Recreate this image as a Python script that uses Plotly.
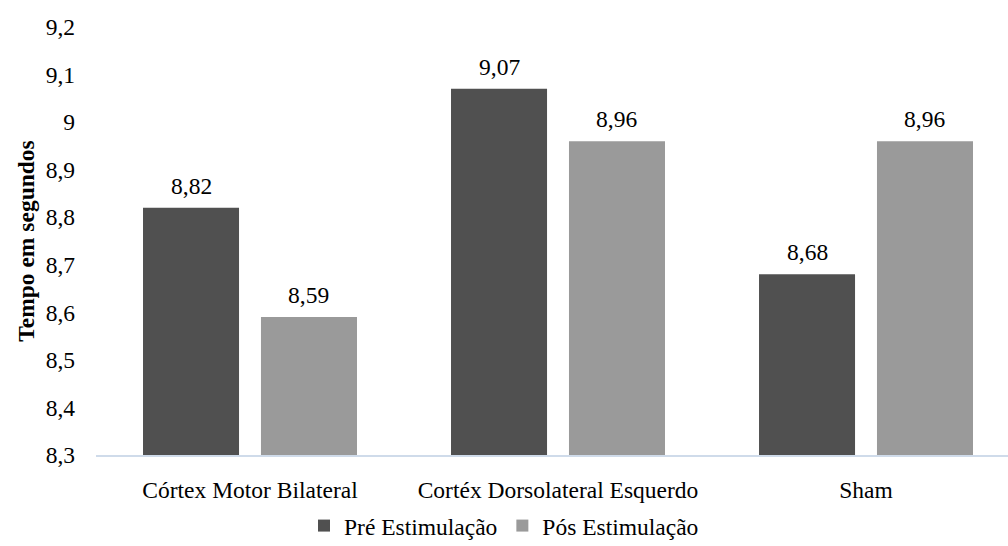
import plotly.graph_objects as go

# Categories and mean times (seconds)
categories = ["Córtex Motor Bilateral", "Cortéx Dorsolateral Esquerdo", "Sham"]
pre_values = [8.82, 9.07, 8.68]
post_values = [8.59, 8.96, 8.96]
series_names = ["Pré Estimulação", "Pós Estimulação"]

y_ticks = [8.3, 8.4, 8.5, 8.6, 8.7, 8.8, 8.9, 9.0, 9.1, 9.2]

FONT = "Liberation Serif"
SIZE = 23.5
BARGAP = 0.234
AXIS_MIN = 8.3
x_pos = list(range(len(categories)))

fig = go.Figure()
fig.add_trace(go.Bar(
    x=x_pos, y=[v - AXIS_MIN for v in pre_values], base=AXIS_MIN, name=series_names[0],
    marker=dict(color="#505050", line=dict(width=0)),
    hoverinfo="skip",
))
fig.add_trace(go.Bar(
    x=x_pos, y=[v - AXIS_MIN for v in post_values], base=AXIS_MIN, name=series_names[1],
    marker=dict(color="#9a9a9a", line=dict(width=0)),
    hoverinfo="skip",
))

# value labels above each bar
slot = (1 - BARGAP) / 2
annotations = []
for vals, off in ((pre_values, -slot / 2), (post_values, slot / 2)):
    for i, v in enumerate(vals):
        annotations.append(dict(
            x=i + off, y=v, xref="x", yref="y",
            text=f"{v:.2f}".replace(".", ","),
            showarrow=False, yanchor="bottom", yshift=7,
            font=dict(family=FONT, size=SIZE, color="#000000"),
        ))

annotations.append(dict(
    x=-0.077, y=0.5, xref="paper", yref="paper",
    text="<b>Tempo em segundos</b>", textangle=-90, showarrow=False,
    xanchor="center", yanchor="middle",
    font=dict(family=FONT, size=SIZE, color="#000000"),
))

fig.update_layout(
    width=1008, height=546,
    margin=dict(l=96, r=0, t=27, b=91),
    paper_bgcolor="white", plot_bgcolor="white",
    separators=",.",
    barmode="group", bargap=BARGAP, bargroupgap=0.186,
    font=dict(family=FONT, size=SIZE, color="#000000"),
    showlegend=True,
    legend=dict(
        orientation="h", xref="container", yref="container",
        x=0.5, xanchor="center", y=0.037, yanchor="middle",
        font=dict(family=FONT, size=SIZE, color="#000000"),
        itemwidth=30, traceorder="normal",
    ),
    annotations=annotations,
)

fig.update_xaxes(
    range=[-0.5, 2.461], tickvals=x_pos, ticktext=categories,
    showgrid=False, zeroline=False,
    showline=True, linecolor="#cfdbea", linewidth=1.5,
    ticks="", ticklabelstandoff=13,
    tickfont=dict(family=FONT, size=SIZE, color="#000000"),
)
fig.update_yaxes(
    range=[AXIS_MIN, 9.2], tickvals=y_ticks,
    showgrid=False, zeroline=False, showline=False, ticks="",
    ticklabelstandoff=20,
    tickfont=dict(family=FONT, size=SIZE, color="#000000"),
)

fig.write_html("out.html")
